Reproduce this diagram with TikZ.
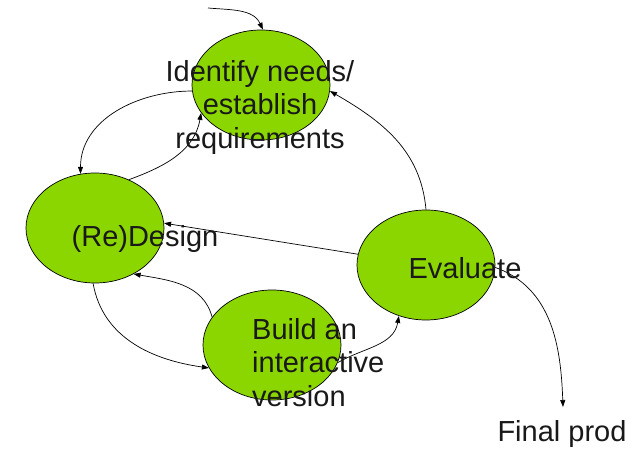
\documentclass[tikz,border=0pt]{standalone}
\usepackage{fontspec}
\setmainfont{Liberation Sans}
\usetikzlibrary{shapes.geometric,arrows.meta}
\definecolor{stagegreen}{RGB}{140,214,0}
\begin{document}
\begin{tikzpicture}[x=1pt,y=1pt,
  stage/.style={ellipse, draw=black, line width=0.7pt, fill=stagegreen, minimum width=138pt, minimum height=110pt, inner sep=0pt},
  txt/.style={font=\fontsize{29}{33.5}\selectfont, inner sep=0pt, text=black!90},
  flow/.style={-{Triangle[length=7pt,width=5pt]}, line width=0.7pt}
]
\useasboundingbox (0,0) rectangle (633,448);
\node[stage] (id) at (261,363) {};
\node[stage] (re) at (95,220) {};
\node[stage] (bu) at (272,103) {};
\node[stage] (ev) at (426,183) {};
\coordinate (start) at (208,440);
\coordinate (fend) at (563,41);
\draw[flow] (start) to[out=-5,in=115] (id.88);
\draw[flow] (id.185) to[out=180,in=90] (re.105);
\draw[flow] (re.55) to[out=20,in=-100] (id.205);
\draw[flow] (ev.90) to[out=95,in=-30] (id.355);
\draw[flow] (ev.171) -- (re.4);
\draw[flow] (re.268) to[out=-80,in=172] (bu.200);
\draw[flow] (bu.155) to[out=105,in=-10] (re.310);
\draw[flow] (bu.345) to[out=30,in=-100] (ev.242);
\draw[flow] (ev.358) to[out=-20,in=92] (fend);
\node[txt, align=center, anchor=north] (idt) at (260,388) {Identify needs/\\establish\\requirements};
\node[txt, anchor=base] (ret) at (145,201) {(Re)Design};
\node[txt, align=left, anchor=north west] (but) at (252,130) {Build an\\interactive\\version};
\node[txt, anchor=base] (evt) at (465,169) {Evaluate};
\node[txt, anchor=base] (fin) at (562,6) {Final prod};
\end{tikzpicture}
\end{document}
